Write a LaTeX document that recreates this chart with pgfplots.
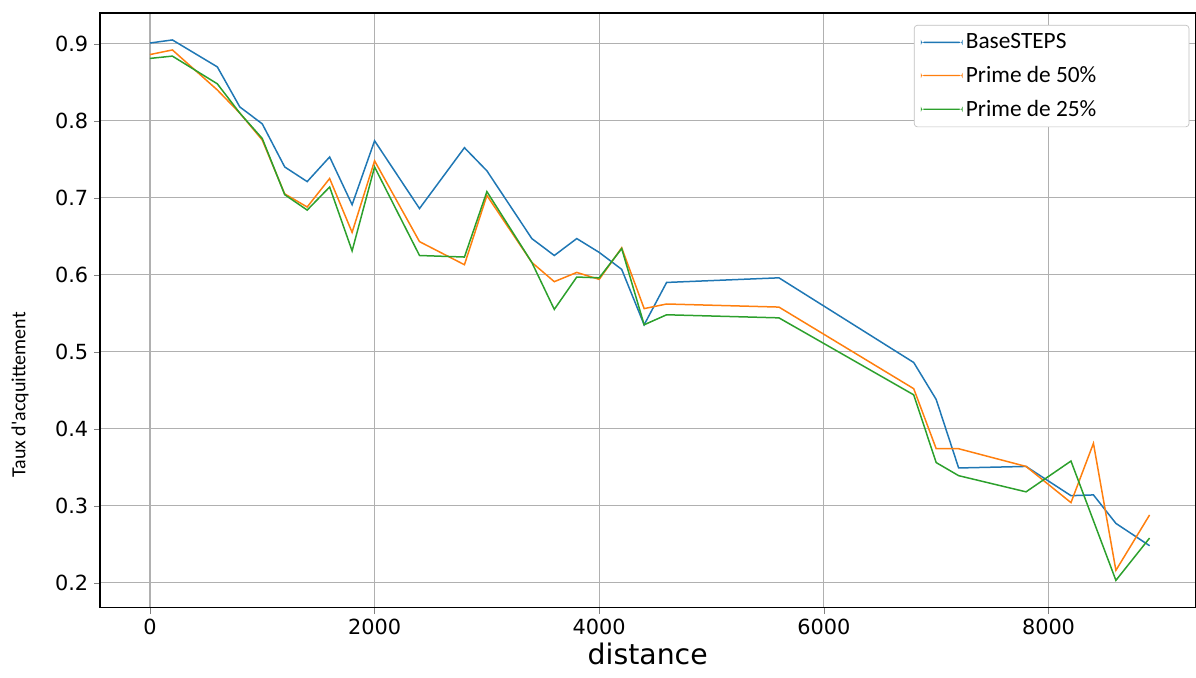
\documentclass[border=0pt]{standalone}
\usepackage{pgfplots}
\pgfplotsset{compat=1.18}
\usepackage{fontspec}
\setmainfont{DejaVu Sans}
\newfontfamily\calibri{Carlito}
\definecolor{c-blue}{HTML}{1F77B4}
\definecolor{c-orange}{HTML}{FF7F0E}
\definecolor{c-green}{HTML}{2CA02C}
\definecolor{c-grid}{HTML}{B0B0B0}

\begin{document}
\begin{tikzpicture}[x=0.6pt,y=0.6pt]
\begin{axis}[
    at={(0,0)}, anchor=south west,
    scale only axis,
    width=657.6pt, height=357pt,
    xmin=-445, xmax=9308,
    ymin=0.1675, ymax=0.940,
    xtick={0,2000,4000,6000,8000},
    ytick={0.2,0.3,0.4,0.5,0.6,0.7,0.8,0.9},
    /pgf/number format/assume math mode=true,
    xticklabel style={/pgf/number format/1000 sep={}},
    yticklabel style={/pgf/number format/fixed,/pgf/number format/precision=1,/pgf/number format/fixed zerofill},
    tick label style={font=\fontsize{12.5}{14}\selectfont},
    tick align=outside,
    tick pos=left,
    major tick length=3.5pt,
    grid=major,
    major grid style={c-grid, line width=0.7pt},
    axis line style={line width=0.7pt},
    xlabel={distance},
    xlabel style={font=\fontsize{17}{20}\selectfont, yshift=2pt},
    ylabel={\calibri Taux d'acquittement},
    ylabel style={font=\fontsize{12}{14}\selectfont, at={(ticklabel cs:0.358)}, yshift=9pt},
    every axis plot/.append style={line width=0.9pt},
    legend style={at={(0.9945,0.98)}, anchor=north east,
        draw=c-grid!80, rounded corners=2pt, font=\calibri\fontsize{14}{16}\selectfont,
        row sep=5pt, inner xsep=4pt, inner ysep=3pt,
        cells={anchor=west}},
    legend image code/.code={\fill[#1, draw=none] (0pt,-0.4pt) rectangle (25pt,0.4pt);},
    legend cell align=left,
]
\addplot[color=c-blue] coordinates {
(0,0.901) (200,0.905) (600,0.870) (800,0.818) (1000,0.796) (1200,0.740)
(1400,0.721) (1600,0.753) (1800,0.691) (2000,0.774) (2400,0.686) (2800,0.765)
(3000,0.735) (3400,0.647) (3600,0.625) (3800,0.647) (4000,0.629) (4200,0.607)
(4400,0.535) (4600,0.590) (5600,0.596) (6800,0.486) (7000,0.438) (7200,0.349)
(7800,0.351) (8200,0.313) (8400,0.314) (8600,0.277) (8900,0.248)};
\addlegendentry{\makebox[128pt][l]{BaseSTEPS}}
\addplot[color=c-orange] coordinates {
(0,0.886) (200,0.892) (600,0.840) (800,0.810) (1000,0.775) (1200,0.705)
(1400,0.688) (1600,0.725) (1800,0.655) (2000,0.748) (2400,0.643) (2800,0.613)
(3000,0.703) (3400,0.616) (3600,0.591) (3800,0.603) (4000,0.594) (4200,0.635)
(4400,0.556) (4600,0.562) (5600,0.558) (6800,0.452) (7000,0.374) (7200,0.374)
(7800,0.351) (8200,0.304) (8400,0.381) (8600,0.216) (8900,0.288)};
\addlegendentry{Prime de 50\%}
\addplot[color=c-green] coordinates {
(0,0.881) (200,0.884) (600,0.848) (800,0.810) (1000,0.777) (1200,0.704)
(1400,0.684) (1600,0.714) (1800,0.631) (2000,0.740) (2400,0.625) (2800,0.623)
(3000,0.708) (3400,0.616) (3600,0.555) (3800,0.597) (4000,0.596) (4200,0.634)
(4400,0.535) (4600,0.548) (5600,0.544) (6800,0.444) (7000,0.356) (7200,0.339)
(7800,0.318) (8200,0.358) (8600,0.203) (8900,0.258)};
\addlegendentry{Prime de 25\%}
\end{axis}
\useasboundingbox (-100,-70) rectangle (1096,595+13);
\end{tikzpicture}
\end{document}
